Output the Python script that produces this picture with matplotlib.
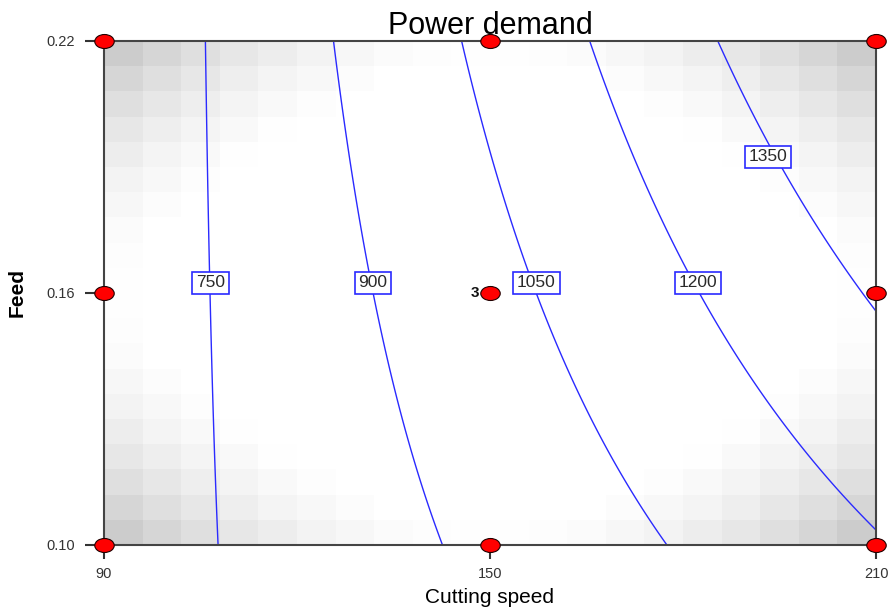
import numpy as np
import matplotlib
matplotlib.use('Agg')
import matplotlib.pyplot as plt
from matplotlib.path import Path
from matplotlib.transforms import Affine2D

plt.rcParams['font.family'] = ['Liberation Sans', 'DejaVu Sans']

# ── Factor ranges ──
speed_range = [90, 210]
feed_range = [0.10, 0.22]
speed_ticks = [90, 150, 210]
feed_ticks = [0.10, 0.16, 0.22]
feed_ticklabels = ["0.10", "0.16", "0.22"]

# ── Design points (3x3 factorial, center replicated) ──
design_speed = [90, 150, 210, 90, 150, 210, 90, 150, 210]
design_feed = [0.10, 0.10, 0.10, 0.16, 0.16, 0.16, 0.22, 0.22, 0.22]
center_reps = 3

# ── 2FI model (coded units): b0, A, B, AB ──
coef = [1007.5, 355.0, 75.75, 97.0]
levels = [750, 900, 1050, 1200, 1350]
label_speed = [106.6, 131.8, 157.2, 182.3, 193.2]
label_feed = [0.1624, 0.1624, 0.1624, 0.1624, 0.1924]

n_cells = 20


def coded(v, rng):
    return (np.asarray(v) - (rng[0] + rng[1]) / 2) / ((rng[1] - rng[0]) / 2)


def model_row(a, b):
    return np.stack([np.ones_like(a), a, b, a * b], axis=-1)


def power(v, f):
    a, b = coded(v, speed_range), coded(f, feed_range)
    return model_row(a, b) @ np.array(coef)


# prediction variance shading from the design
da = list(coded(design_speed, speed_range)) + [0.0] * (center_reps - 1)
db = list(coded(design_feed, feed_range)) + [0.0] * (center_reps - 1)
X = model_row(np.array(da), np.array(db))
XtX_inv = np.linalg.inv(X.T @ X)

ex = np.linspace(*speed_range, n_cells + 1)
ey = np.linspace(*feed_range, n_cells + 1)
cx = (ex[:-1] + ex[1:]) / 2
cy = (ey[:-1] + ey[1:]) / 2
CX, CY = np.meshgrid(cx, cy)
R = model_row(coded(CX, speed_range), coded(CY, feed_range))
var = np.einsum('...i,ij,...j->...', R, XtX_inv, R)
e = model_row(np.array(1.0), np.array(0.0))
t = 0.9 * (e @ XtX_inv @ e)
gray = 1 - 0.2 * np.clip((var - t) / (var.max() - t), 0, 1)

fig = plt.figure(figsize=(8.9, 6.12), dpi=100)
ax = fig.add_axes([0.11685, 0.10948, 0.86742, 0.82353])
ax.pcolormesh(ex, ey, gray, cmap='gray', vmin=0, vmax=1, shading='flat')

gx = np.linspace(*speed_range, 400)
gy = np.linspace(*feed_range, 400)
GX, GY = np.meshgrid(gx, gy)
cs = ax.contour(GX, GY, power(GX, GY), levels=levels, colors='#2a2aff', linewidths=1.0)

# boxed contour labels
for lv, sx, fy in zip(levels, label_speed, label_feed):
    ax.text(sx, fy, f'{lv}', ha='center', va='center', fontsize=12.5, color='#2a2a2a',
            zorder=4, bbox=dict(boxstyle='square,pad=0.22', fc='white', ec='#2a2aff', lw=1.2))

# design point markers
ell = Path.unit_circle().transformed(Affine2D().scale(1.0, 0.72))
ax.plot(design_speed, design_feed, linestyle='none', marker=ell, markersize=14,
        markerfacecolor='#ff0000', markeredgecolor='#200000', markeredgewidth=0.8,
        clip_on=False, zorder=5)
ax.text(148.3, 0.16, str(center_reps), ha='right', va='center', fontsize=11,
        fontweight='bold', color='#111111')

ax.set_xlim(*speed_range)
ax.set_ylim(*feed_range)
ax.set_xticks(speed_ticks)
ax.set_xticklabels([str(s) for s in speed_ticks])
ax.set_yticks(feed_ticks)
ax.set_yticklabels(feed_ticklabels)
ax.tick_params(axis='x', length=10, width=1.5, color='#333333', pad=6,
               labelsize=10.5, labelcolor='#333333')
ax.tick_params(axis='y', length=14, width=1.5, color='#333333', pad=7,
               labelsize=10.5, labelcolor='#333333')
for sp in ax.spines.values():
    sp.set_color('#444444')
    sp.set_linewidth(1.5)

ax.set_xlabel('Cutting speed', fontsize=15, labelpad=5)
ax.set_ylabel('Feed', fontsize=15, fontweight='bold', labelpad=14)
ax.set_title('Power demand', fontsize=22, pad=5)

fig.savefig('out.png', dpi=100)
